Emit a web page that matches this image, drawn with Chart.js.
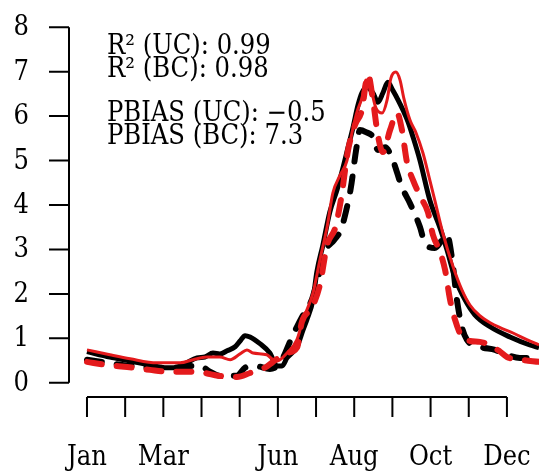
<!DOCTYPE html>
<html>
<head>
<meta charset="utf-8">
<script src="https://cdn.jsdelivr.net/npm/chart.js@4/dist/chart.umd.min.js"></script>
<style>
  body { margin: 0; background: #fff; }
  #wrap { width: 539px; height: 473px; position: relative; }
</style>
</head>
<body>
<div id="wrap"><canvas id="myChart"></canvas></div>
<script>
'use strict';

// x values are in months (1 = Jan, 12 = Dec), y values read off the picture
// black solid (UC)
const blackSolidX = [1.00, 1.60, 2.13, 2.65, 3.04, 3.30, 3.57, 3.88, 4.09, 4.30, 4.48, 4.67, 4.88, 5.01, 5.14, 5.27, 5.53, 5.79, 5.98, 6.11, 6.24, 6.50, 6.66, 6.76, 6.92, 7.02, 7.18, 7.36, 7.55, 7.71, 7.84, 7.97, 8.10, 8.20, 8.33, 8.49, 8.62, 8.75, 8.88, 9.01, 9.15, 9.28, 9.41, 9.54, 9.72, 9.98, 10.25, 10.43, 10.64, 10.90, 11.16, 11.56, 12.08, 12.60, 12.84];
const blackSolidY = [0.70, 0.58, 0.49, 0.40, 0.34, 0.34, 0.43, 0.56, 0.58, 0.67, 0.65, 0.72, 0.81, 0.94, 1.06, 1.03, 0.88, 0.67, 0.38, 0.38, 0.56, 0.81, 1.19, 1.42, 1.87, 2.49, 3.10, 3.84, 4.34, 4.85, 5.30, 5.75, 6.25, 6.52, 6.65, 6.52, 6.31, 6.52, 6.76, 6.58, 6.36, 6.13, 5.87, 5.53, 5.01, 4.11, 3.48, 2.99, 2.36, 1.87, 1.53, 1.26, 1.03, 0.85, 0.79];

// black dashed
const blackDashX = [1.00, 1.52, 2.13, 2.65, 3.30, 3.70, 3.96, 4.22, 4.48, 4.93, 5.14, 5.40, 5.79, 6.06, 6.37, 6.50, 6.71, 6.89, 7.05, 7.26, 7.47, 7.65, 7.78, 7.91, 8.05, 8.15, 8.31, 8.49, 8.62, 8.81, 9.01, 9.25, 9.46, 9.72, 9.85, 10.11, 10.43, 10.56, 10.69, 10.82, 10.95, 11.29, 11.69, 12.00, 12.34, 12.84];
const blackDashY = [0.52, 0.45, 0.38, 0.34, 0.34, 0.38, 0.38, 0.25, 0.16, 0.16, 0.34, 0.38, 0.31, 0.45, 1.03, 1.26, 1.60, 1.87, 2.36, 2.99, 3.21, 3.44, 3.84, 4.38, 5.24, 5.69, 5.64, 5.53, 5.24, 5.30, 5.01, 4.40, 4.04, 3.51, 3.15, 3.03, 3.33, 2.81, 1.87, 1.26, 0.97, 0.81, 0.74, 0.63, 0.56, 0.56];

// red solid (BC)
const redSolidX = [1.00, 1.60, 2.13, 2.83, 3.44, 3.78, 4.14, 4.48, 4.75, 5.01, 5.19, 5.35, 5.71, 5.87, 5.98, 6.24, 6.50, 6.66, 6.92, 7.10, 7.29, 7.44, 7.63, 7.81, 7.94, 8.07, 8.20, 8.31, 8.41, 8.57, 8.73, 8.86, 8.96, 9.09, 9.20, 9.30, 9.46, 9.62, 9.80, 9.98, 10.11, 10.32, 10.59, 10.82, 11.03, 11.29, 11.56, 11.82, 12.16, 12.52, 12.84];
const redSolidY = [0.74, 0.63, 0.54, 0.45, 0.45, 0.52, 0.58, 0.58, 0.52, 0.65, 0.74, 0.67, 0.63, 0.52, 0.49, 0.67, 0.97, 1.42, 2.02, 2.76, 3.51, 4.27, 4.67, 5.00, 5.62, 6.09, 6.40, 6.81, 6.70, 6.18, 6.07, 6.36, 6.85, 6.99, 6.81, 6.40, 5.91, 5.62, 5.17, 4.56, 4.11, 3.37, 2.61, 2.09, 1.75, 1.51, 1.35, 1.24, 1.12, 0.97, 0.85];

// red dashed
const redDashX = [1.00, 1.52, 2.20, 2.65, 3.17, 3.70, 4.09, 4.43, 4.93, 5.27, 5.66, 5.87, 6.24, 6.50, 6.63, 6.89, 7.10, 7.29, 7.50, 7.65, 7.84, 8.02, 8.20, 8.36, 8.49, 8.62, 8.75, 8.94, 9.12, 9.25, 9.38, 9.54, 9.75, 9.93, 10.06, 10.25, 10.38, 10.51, 10.64, 10.82, 11.03, 11.29, 11.56, 11.82, 12.00, 12.34, 12.84];
const redDashY = [0.47, 0.40, 0.34, 0.29, 0.25, 0.25, 0.22, 0.16, 0.13, 0.22, 0.34, 0.47, 0.67, 0.79, 1.37, 1.69, 2.20, 3.10, 3.48, 4.11, 5.24, 5.80, 6.13, 6.94, 6.36, 5.57, 5.19, 5.69, 6.07, 5.69, 4.97, 4.56, 4.16, 3.84, 3.33, 2.94, 2.54, 1.87, 1.42, 1.03, 0.94, 0.92, 0.85, 0.70, 0.58, 0.52, 0.47];

// axis ticks and labels
const yTicks = [0, 1, 2, 3, 4, 5, 6, 7, 8];
const xTicks = [1, 2, 3, 4, 5, 6, 7, 8, 9, 10, 11, 12];
const xTickLabels = ['Jan', '', 'Mar', '', '', 'Jun', '', 'Aug', '', 'Oct', '', 'Dec'];

// stats text in the corner
const statLines = ['R\u00b2 (UC): 0.99', 'R\u00b2 (BC): 0.98', 'PBIAS (UC): \u22120.5', 'PBIAS (BC): 7.3'];

const RED = '#e41a1c';
const FONT = '"DejaVu Serif Condensed", "DejaVu Serif", serif';

function toPoints(xs, ys) {
  let pts = [];
  for (let i = 0; i < xs.length; i++) {
    pts.push({x: xs[i], y: ys[i]});
  }
  return pts;
}

// draws R style axes (lines only cover the tick range) plus the text block
const rAxesPlugin = {
  id: 'rAxes',
  afterDraw(chart) {
    const ctx = chart.ctx;
    const xs = chart.scales.x;
    const ys = chart.scales.y;
    ctx.save();
    ctx.strokeStyle = '#000';
    ctx.fillStyle = '#000';
    ctx.lineWidth = 2;

    // y axis
    const yLeft = chart.chartArea.left;
    ctx.beginPath();
    ctx.moveTo(yLeft, ys.getPixelForValue(yTicks[0]));
    ctx.lineTo(yLeft, ys.getPixelForValue(yTicks[yTicks.length - 1]));
    for (let i = 0; i < yTicks.length; i++) {
      let py = ys.getPixelForValue(yTicks[i]);
      ctx.moveTo(yLeft - 20, py);
      ctx.lineTo(yLeft, py);
    }
    ctx.stroke();
    ctx.font = '27px ' + FONT;
    ctx.textAlign = 'right';
    ctx.textBaseline = 'middle';
    for (let i = 0; i < yTicks.length; i++) {
      ctx.fillText(String(yTicks[i]), 29, ys.getPixelForValue(yTicks[i]) + 1);
    }

    // x axis
    const xBottom = chart.chartArea.bottom;
    ctx.beginPath();
    ctx.moveTo(xs.getPixelForValue(xTicks[0]), xBottom);
    ctx.lineTo(xs.getPixelForValue(xTicks[xTicks.length - 1]), xBottom);
    for (let i = 0; i < xTicks.length; i++) {
      let px = xs.getPixelForValue(xTicks[i]);
      ctx.moveTo(px, xBottom);
      ctx.lineTo(px, xBottom + 20);
    }
    ctx.stroke();
    ctx.textAlign = 'center';
    ctx.textBaseline = 'alphabetic';
    for (let i = 0; i < xTicks.length; i++) {
      if (xTickLabels[i]) {
        ctx.fillText(xTickLabels[i], xs.getPixelForValue(xTicks[i]), 465);
      }
    }

    // stats
    ctx.textAlign = 'left';
    const baselines = [54, 77, 121, 144];
    for (let i = 0; i < statLines.length; i++) {
      ctx.fillText(statLines[i], 107, baselines[i]);
    }
    ctx.restore();
  }
};

function lineSet(xs, ys, color, width, dashed, order) {
  return {
    data: toPoints(xs, ys),
    borderColor: color,
    borderWidth: width,
    borderDash: dashed ? [15, 15] : [],
    borderCapStyle: dashed ? 'round' : 'butt',
    borderJoinStyle: 'round',
    cubicInterpolationMode: 'monotone',
    pointRadius: 0,
    fill: false,
    order: order
  };
}

const ctx = document.getElementById('myChart').getContext('2d');
new Chart(ctx, {
  type: 'line',
  data: {
    datasets: [
      lineSet(redDashX, redDashY, RED, 6, true, 0),
      lineSet(redSolidX, redSolidY, RED, 3, false, 1),
      lineSet(blackDashX, blackDashY, '#000', 6, true, 2),
      lineSet(blackSolidX, blackSolidY, '#000', 5, false, 3)
    ]
  },
  options: {
    responsive: true,
    maintainAspectRatio: false,
    animation: false,
    layout: { padding: { left: 69, right: 0, top: 13, bottom: 76 } },
    plugins: { legend: { display: false }, tooltip: { enabled: false } },
    scales: {
      x: { type: 'linear', min: 0.529, max: 12.84, display: false },
      y: { type: 'linear', min: -0.32, max: 8.32, display: false }
    }
  },
  plugins: [rAxesPlugin]
});
</script>
</body>
</html>
